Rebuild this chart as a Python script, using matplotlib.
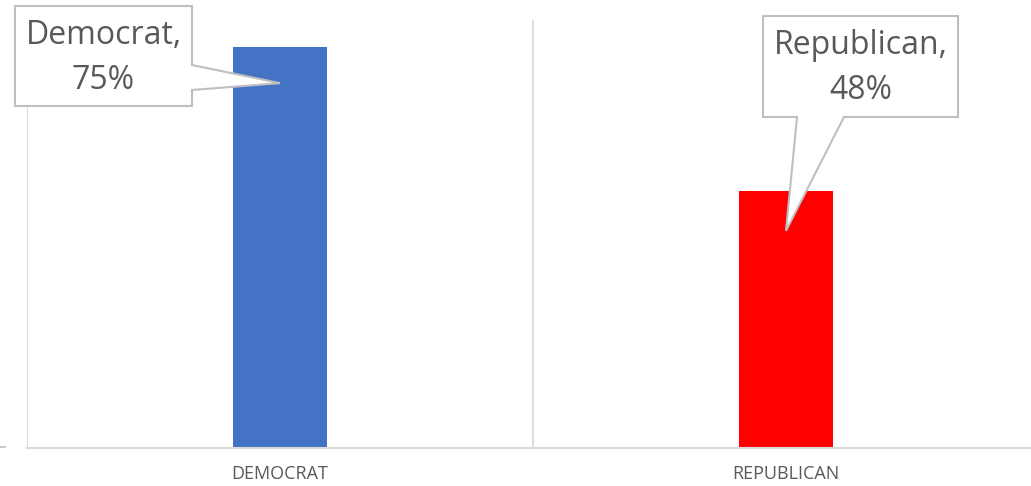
import matplotlib
matplotlib.use("Agg")
import matplotlib.pyplot as plt
from matplotlib.patches import Polygon
from matplotlib.transforms import IdentityTransform

categories = ["Democrat", "Republican"]
values = [0.75, 0.48]
tick_labels = ["DEMOCRAT", "REPUBLICAN"]
bar_colors = ["#4472C4", "#FF0000"]
callout_texts = ["Democrat,\n75%", "Republican,\n48%"]

W, H = 1031, 486
fig = plt.figure(figsize=(W / 100, H / 100), dpi=100)
left_px, right_px, bottom_px, top_px = 27, 1039, 448, 20
ax = fig.add_axes([left_px / W, (H - bottom_px) / H,
                   (right_px - left_px) / W, (bottom_px - top_px) / H])

x = list(range(len(categories)))
ax.bar(x, values, width=0.186, color=bar_colors, zorder=2)
ax.set_xlim(-0.5, len(categories) - 0.5)
ax.set_ylim(0, 0.8)

grid_c = "#D9D9D9"
for s in ["top", "right", "left"]:
    ax.spines[s].set_visible(False)
ax.spines["bottom"].set_color(grid_c)
ax.spines["bottom"].set_linewidth(1.5)
for gx in [-0.5, 0.5, 1.5]:
    ax.axvline(gx, color=grid_c, linewidth=1.3, zorder=1)
ax.set_yticks([])
ax.set_xticks(x)
ax.set_xticklabels(tick_labels, fontsize=13, color="#595959", family="Open Sans")
ax.tick_params(axis="x", length=0, pad=12)

# small tick at the left
fig.add_artist(plt.Line2D([0, 5], [H - 447, H - 447], transform=IdentityTransform(),
                          color="#BFBFBF", linewidth=1.2))

fig.canvas.draw()

def to_disp(pts):
    return [(px, H - py) for px, py in pts]

def tip_px(i, off):
    xd, yd = ax.transData.transform((x[i], values[i] - off))
    return (xd, H - yd)

t0 = tip_px(0, 0.068)
t1 = tip_px(1, 0.074)
shapes = [
    [(15, 6), (192, 6), (192, 65), t0, (192, 90), (192, 106), (15, 106)],
    [(763, 16), (958, 16), (958, 117), (844, 117), t1, (797, 117), (763, 117)],
]
centers = [((15 + 192) / 2, 58), ((763 + 958) / 2, 68)]
for shp, (cx, cy), txt in zip(shapes, centers, callout_texts):
    poly = Polygon(to_disp(shp), closed=True, transform=IdentityTransform(),
                   facecolor="white", edgecolor="#BFBFBF", linewidth=1.5, zorder=5)
    fig.add_artist(poly)
    fig.text(cx / W, (H - cy) / H, txt, ha="center", va="center", fontsize=23,
             color="#595959", family="Open Sans", linespacing=1.45, zorder=6)

fig.savefig("out.png", dpi=100)
